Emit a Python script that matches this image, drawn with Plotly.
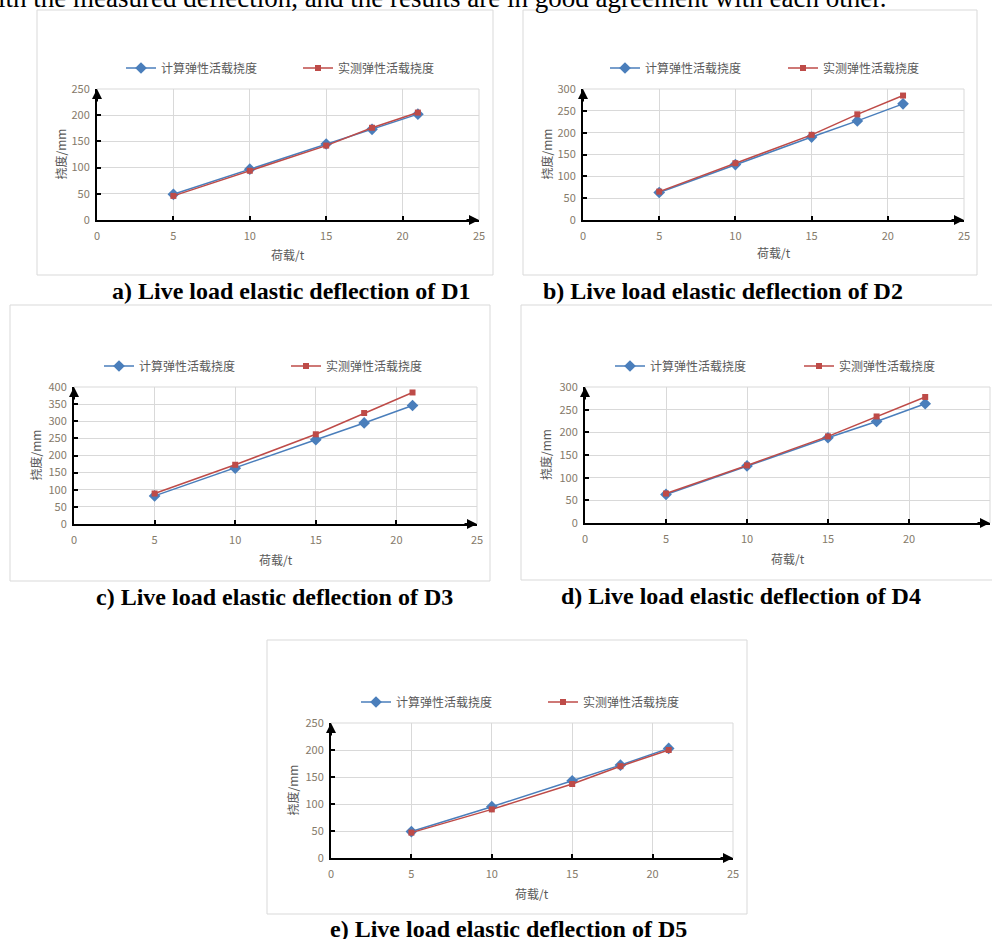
import plotly.graph_objects as go

# ---------------- data ----------------
loads = [5, 10, 15, 18, 21]
calc_D1 = [49, 97, 145, 173, 202]
meas_D1 = [46, 94, 142, 176, 205]
calc_D2 = [63, 127, 190, 227, 266]
meas_D2 = [65, 130, 195, 242, 285]
calc_D3 = [82, 163, 246, 295, 346]
meas_D3 = [89, 173, 262, 324, 384]
calc_D4 = [63, 126, 188, 224, 263]
meas_D4 = [65, 127, 191, 235, 278]
calc_D5 = [49, 95, 143, 172, 203]
meas_D5 = [47, 90, 137, 170, 200]
y_max = [250, 300, 400, 300, 250]
x_max = 25
name_calc = "计算弹性活载挠度"
name_meas = "实测弹性活载挠度"
x_title = "荷载/t"
y_title = "挠度/mm"
captions = ["a) Live load elastic deflection of D1",
            "b) Live load elastic deflection of D2",
            "c) Live load elastic deflection of D3",
            "d) Live load elastic deflection of D4",
            "e) Live load elastic deflection of D5"]
top_text = "ith the measured deflection, and the results are in good agreement with each other."

calc_all = [calc_D1, calc_D2, calc_D3, calc_D4, calc_D5]
meas_all = [meas_D1, meas_D2, meas_D3, meas_D4, meas_D5]

# ---------------- layout geometry (pixels) ----------------
W, H = 992, 939
panels = [
    dict(plot=(97, 479, 89, 220), box=(37, 493, 10, 275), leg=(141, 318, 68), cap=(291, 291), ytx=60, xty=254),
    dict(plot=(583, 964, 89, 220), box=(523, 977, 10, 275), leg=(625, 803, 68), cap=(723, 291), ytx=546, xty=253),
    dict(plot=(74, 477, 387, 524), box=(10, 490, 305, 581), leg=(119, 306, 366), cap=(274, 597), ytx=35, xty=559),
    dict(plot=(585, 990, 387, 523), box=(521, 1005, 305, 580), leg=(630, 819, 366), cap=(741, 596), ytx=545, xty=558),
    dict(plot=(331, 733, 723, 858), box=(267, 747, 640, 914), leg=(376, 563, 702), cap=(508, 929), ytx=292, xty=893),
]

BLUE = "#4A7EBB"
RED = "#BE4B48"
GRID = "#D9D9D9"
TICKC = "#857A6A"
TXT = "#595959"
CJK = "Noto Sans CJK SC"
SERIF = "Liberation Serif"

def px(x):
    return x / W

def py(y):
    return 1 - y / H

fig = go.Figure()
layout = dict(
    width=W, height=H, margin=dict(l=0, r=0, t=0, b=0, pad=0, autoexpand=False),
    paper_bgcolor="white", plot_bgcolor="white",
    font=dict(family=CJK, color=TXT),
    showlegend=True,
)
shapes = []
annotations = []

for i, p in enumerate(panels):
    k = i + 1
    xa = "xaxis" if k == 1 else f"xaxis{k}"
    ya = "yaxis" if k == 1 else f"yaxis{k}"
    xr = "x" if k == 1 else f"x{k}"
    yr = "y" if k == 1 else f"y{k}"
    x0, x1, y0, y1 = p["plot"]
    layout[xa] = dict(
        domain=[px(x0), px(x1)], range=[0, x_max], dtick=5, tick0=0,
        anchor=yr, showgrid=True, gridcolor=GRID, gridwidth=1, zeroline=False,
        showline=True, linecolor="black", linewidth=2,
        ticks="inside", ticklen=4, tickwidth=2, tickcolor="black",
        tickfont=dict(family=CJK, size=11, color=TICKC), ticklabelstandoff=5,
        fixedrange=True,
    )
    layout[ya] = dict(
        domain=[py(y1), py(y0)], range=[0, y_max[i]], dtick=50, tick0=0,
        anchor=xr, showgrid=True, gridcolor=GRID, gridwidth=1, zeroline=False,
        showline=True, linecolor="black", linewidth=2,
        ticks="inside", ticklen=4, tickwidth=2, tickcolor="black",
        tickfont=dict(family=CJK, size=11, color=TICKC), ticklabelstandoff=3,
        fixedrange=True,
    )
    # right border / top border of plot area (gridline look)
    shapes.append(dict(type="line", xref="paper", yref="paper",
                       x0=px(x1), x1=px(x1), y0=py(y1), y1=py(y0),
                       line=dict(color=GRID, width=1), layer="below"))
    shapes.append(dict(type="line", xref="paper", yref="paper",
                       x0=px(x0), x1=px(x1), y0=py(y0), y1=py(y0),
                       line=dict(color=GRID, width=1), layer="below"))
    # panel frame
    bx0, bx1, by0, by1 = p["box"]
    shapes.append(dict(type="rect", xref="paper", yref="paper",
                       x0=px(bx0), x1=px(bx1), y0=py(by1), y1=py(by0),
                       line=dict(color=GRID, width=1), layer="below"))

    lg_calc = f"legend{2 * i + 2}"
    lg_meas = f"legend{2 * i + 3}"
    fig.add_trace(go.Scatter(
        x=loads, y=calc_all[i], name=name_calc, mode="lines+markers",
        line=dict(color=BLUE, width=1.5),
        marker=dict(symbol="diamond", size=9, color=BLUE),
        xaxis=xr, yaxis=yr, legend=lg_calc, cliponaxis=False))
    fig.add_trace(go.Scatter(
        x=loads, y=meas_all[i], name=name_meas, mode="lines+markers",
        line=dict(color=RED, width=1.5),
        marker=dict(symbol="square", size=6, color=RED),
        xaxis=xr, yaxis=yr, legend=lg_meas, cliponaxis=False))
    mb, mr, ly = p["leg"]
    for lg, mx in ((lg_calc, mb), (lg_meas, mr)):
        layout[lg] = dict(
            x=px(mx - 20), y=py(ly), xanchor="left", yanchor="middle",
            orientation="h", bgcolor="rgba(0,0,0,0)", borderwidth=0,
            font=dict(family=CJK, size=12, color=TXT),
        )

    # axis arrows
    annotations.append(dict(x=x_max, y=0, xref=xr, yref=yr, text="",
                            showarrow=True, ax=-14, ay=0, axref="pixel", ayref="pixel",
                            arrowhead=2, arrowsize=1, arrowwidth=2, arrowcolor="black"))
    annotations.append(dict(x=0, y=y_max[i], xref=xr, yref=yr, text="",
                            showarrow=True, ax=0, ay=14, axref="pixel", ayref="pixel",
                            arrowhead=2, arrowsize=1, arrowwidth=2, arrowcolor="black"))
    # axis titles
    annotations.append(dict(x=px((x0 + x1) / 2), y=py(p["xty"]), xref="paper", yref="paper",
                            text=x_title, showarrow=False, xanchor="center", yanchor="middle",
                            font=dict(family=CJK, size=12, color=TXT)))
    annotations.append(dict(x=px(p["ytx"]), y=py((y0 + y1) / 2), xref="paper", yref="paper",
                            text=y_title, showarrow=False, textangle=-90,
                            xanchor="center", yanchor="middle",
                            font=dict(family=CJK, size=12, color=TXT)))
    # caption
    cx, cy = p["cap"]
    annotations.append(dict(x=px(cx), y=py(cy), xref="paper", yref="paper",
                            text=f"<b>{captions[i]}</b>", showarrow=False,
                            xanchor="center", yanchor="middle",
                            font=dict(family=SERIF, size=24, color="black")))

annotations.append(dict(x=px(888), y=py(-2), xref="paper", yref="paper",
                        text=top_text, showarrow=False, xanchor="right", yanchor="middle",
                        font=dict(family=SERIF, size=27, color="black")))

layout["shapes"] = shapes
layout["annotations"] = annotations
fig.update_layout(**layout)
fig.write_html("out.html",
               config={"displayModeBar": False},
               post_script="document.body.style.margin='0';document.body.style.overflow='hidden';")
